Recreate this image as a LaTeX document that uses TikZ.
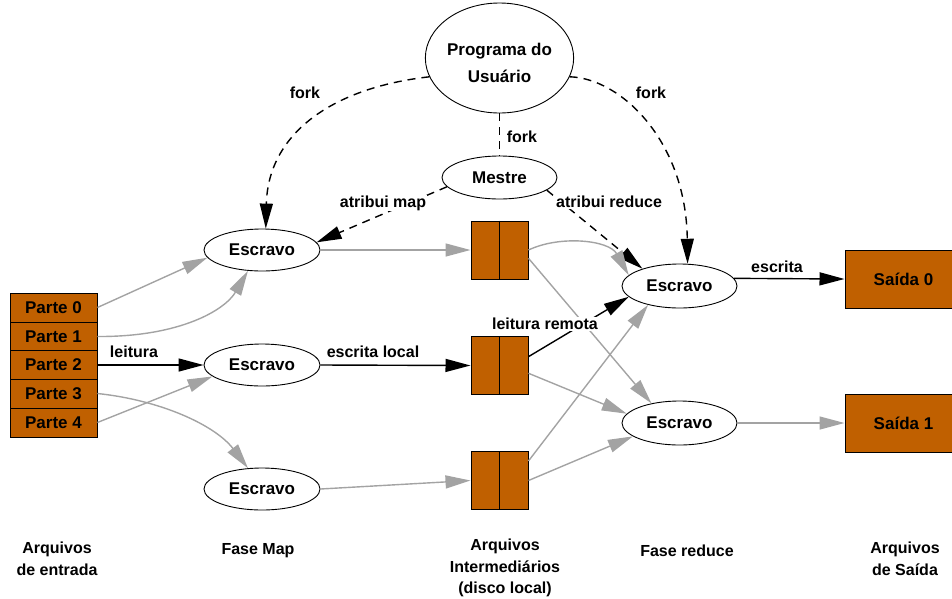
\documentclass[tikz,border=0pt]{standalone}
\usepackage{fontspec}
\setmainfont{Liberation Sans}
\usetikzlibrary{shapes.geometric,arrows.meta}
\definecolor{orfill}{RGB}{192,96,0}
\definecolor{gline}{RGB}{163,163,163}
\newcommand{\nfont}{\fontsize{17}{22}\selectfont\bfseries}
\newcommand{\lfont}{\fontsize{16}{20}\selectfont\bfseries}
\newcommand{\cfont}{\fontsize{16}{21.5}\selectfont\bfseries}
\begin{document}
\begin{tikzpicture}[x=1pt,y=-1pt,
  ell/.style={draw, ellipse, inner sep=0pt, line width=0.9pt, font=\nfont, align=center},
  part/.style={draw, fill=orfill, line width=0.9pt, minimum width=87pt, minimum height=29pt, inner sep=0pt, font=\nfont},
  ibox/.style={draw, fill=orfill, line width=1pt, minimum width=57pt, minimum height=58pt, inner sep=0pt},
  obox/.style={draw, fill=orfill, line width=1pt, minimum width=117pt, minimum height=58pt, inner sep=0pt, font=\nfont},
  arr/.style={-{Triangle[length=25pt,width=13pt]}},
  gconn/.style={draw=gline, line width=1.4pt, arr},
  bconn/.style={draw=black, line width=1.4pt, arr},
  dconn/.style={bconn, dash pattern=on 8pt off 6pt},
  elabel/.style={font=\lfont, fill=white, inner sep=1pt},
  capt/.style={font=\cfont, align=center}
]
\useasboundingbox (0,0) rectangle (952,598);
\clip (0,0) rectangle (952,598);

% nodes
\node[ell, minimum width=144pt, minimum height=110pt] (prog) at (499.5,58) {\rule{0pt}{23pt}Programa do\\[5pt]Usuário};
\node[ell, minimum width=115pt, minimum height=43pt] (mestre) at (499.5,177.5) {Mestre};
\node[ell, minimum width=116pt, minimum height=42pt] (m1) at (262,250) {Escravo};
\node[ell, minimum width=116pt, minimum height=42pt] (m2) at (262,365) {Escravo};
\node[ell, minimum width=116pt, minimum height=42pt] (m3) at (262,489) {Escravo};
\node[ell, minimum width=115pt, minimum height=44pt] (r1) at (679.5,286) {Escravo};
\node[ell, minimum width=115pt, minimum height=44pt] (r2) at (679.5,423) {Escravo};

\node[part] (p0) at (53.5,307.5) {Parte 0};
\node[part] (p1) at (53.5,336.5) {Parte 1};
\node[part] (p2) at (53.5,365) {Parte 2};
\node[part] (p3) at (53.5,393.5) {Parte 3};
\node[part] (p4) at (53.5,422.5) {Parte 4};

\node[ibox] (b1) at (499.5,250) {};
\node[ibox] (b2) at (499.5,365.5) {};
\node[ibox] (b3) at (499.5,480.5) {};
\foreach \b in {b1,b2,b3} \draw[line width=1pt] (\b.north) -- (\b.south);

\node[obox] (s0) at (903.5,279) {Saída 0};
\node[obox] (s1) at (903.5,423) {Saída 1};

% dashed control connectors
\draw[dconn] (prog.195) .. controls (330,88) and (268,135) .. (m1.80);
\draw[dconn] (prog.345) .. controls (620,78) and (686,140) .. (r1.70);
\draw[black, line width=1.4pt, dash pattern=on 8pt off 6pt] (prog.south) -- (mestre.north);
\draw[dconn] (mestre.190) -- (m1.8);
\draw[dconn] (mestre.345) -- (r1.155);

% input to map
\draw[gconn] (p0.east) -- (m1.188);
\draw[gconn] (p1.east) .. controls (180,337) and (225,310) .. (m1.236);
\draw[bconn] (p2.east) -- (m2.west);
\draw[gconn] (p3.east) .. controls (160,400) and (215,425) .. (m3.124);
\draw[gconn] (p4.east) -- (m2.193);

% map to intermediate
\draw[gconn] (m1.east) -- (b1.west);
\draw[bconn] (m2.east) -- (b2.west);
\draw[gconn] (m3.east) -- (b3.west);

% intermediate to reduce
\draw[gconn] (b1.east) .. controls (560,235) and (609,240) .. (r1.168);
\draw[gconn] (b1.344) -- (r2.145);
\draw[bconn] (b2.17) -- (r1.192);
\draw[gconn] (b2.345) -- (r2.170);
\draw[gconn] (b3.34) -- (r1.211);
\draw[gconn] (b3.east) -- (r2.196);

% reduce to output
\draw[bconn] (r1.8) -- (s0.west);
\draw[gconn] (r2.east) -- (s1.west);

% edge labels
\node[elabel] (lfork1) at (305,93) {fork};
\node[elabel] (lfork2) at (651,93) {fork};
\node[elabel] (lfork3) at (522,137) {fork};
\node[elabel] (lmap) at (383,203) {atribui map};
\node[elabel] (lred) at (609,202) {atribui reduce};
\node[elabel] (lleit) at (134,352) {leitura};
\node[elabel] (lesc) at (373,352) {escrita local};
\node[elabel] (lrem) at (545,324) {leitura remota};
\node[elabel] (lescr) at (777,267) {escrita};

% captions
\node[capt] (c1) at (57,559) {Arquivos\\de entrada};
\node[capt] (c2) at (258,551) {Fase Map};
\node[capt] (c3) at (505,568) {Arquivos\\Intermediários\\(disco local)};
\node[capt] (c4) at (687,551) {Fase reduce};
\node[capt] (c5) at (905,559) {Arquivos\\de Saída};
\end{tikzpicture}
\end{document}
